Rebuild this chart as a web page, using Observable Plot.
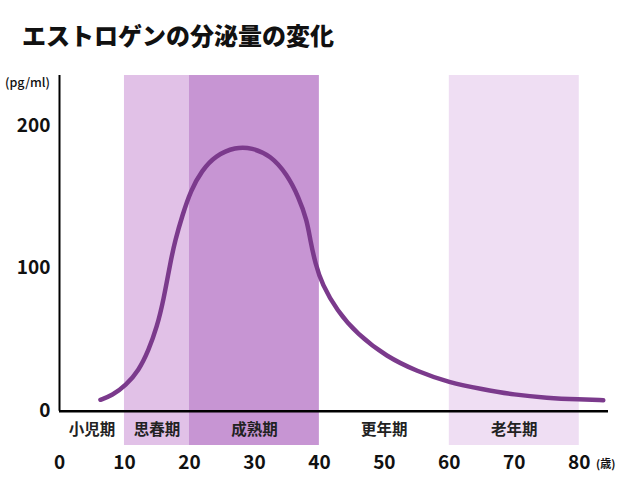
<!DOCTYPE html>
<html>
<head>
<meta charset="utf-8">
<script src="https://cdn.jsdelivr.net/npm/d3@7"></script>
<script src="https://cdn.jsdelivr.net/npm/@observablehq/plot@0.6"></script>
<style>
  html, body { margin: 0; padding: 0; background: #fff; }
  #wrap { position: relative; width: 640px; height: 500px; font-family: "Noto Sans CJK JP", sans-serif; }
  #title { position: absolute; left: 22px; top: 20px; font-size: 24px; font-weight: 900; line-height: 30px; color: #111; white-space: nowrap; }
  #unitY { position: absolute; left: 5px; top: 74px; font-size: 12.5px; font-weight: 500; line-height: 16px; color: #111; }
  #unitX { position: absolute; left: 596px; top: 455px; font-size: 11px; font-weight: 700; line-height: 16px; color: #111; }
  #chart { position: absolute; left: 0; top: 0; }
</style>
</head>
<body>
<div id="wrap">
  <div id="chart"></div>
  <div id="title">エストロゲンの分泌量の変化</div>
  <div id="unitY">(pg/ml)</div>
  <div id="unitX">(歳)</div>
</div>
<script>
// Life stages
const stageNames = ["小児期", "思春期", "成熟期", "更年期", "老年期"];
const stageStart = [0, 10, 20, 40, 60];
const stageEnd   = [10, 20, 40, 60, 80];

// Estrogen curve (age, pg/ml)
const ages = [6.3, 8.1, 10.2, 12.2, 13.7, 15, 16, 17.1, 17.8, 18.9, 20.2, 21.9, 24, 27.1, 29.6, 32.5, 35, 36.8, 38.1, 38.6, 39.4, 40.4, 42.7, 45.8, 50.4, 55, 60, 65, 70, 75, 80, 83.7];
const estrogen = [8, 11, 18, 28.5, 42.5, 59, 77.5, 105, 119.5, 137, 154.5, 168.5, 179, 185, 184.5, 179, 166, 150, 133.5, 119.5, 103, 89, 70.5, 54, 38, 28, 20, 15.5, 11.5, 9.3, 8.2, 7.7];

// Tick labels
const xTicks = [0, 10, 20, 30, 40, 50, 60, 70, 80];
const yTicks = [0, 100, 200];

const stageColor = {"小児期": "none", "思春期": "#e1c1e7", "成熟期": "#c795d3", "更年期": "none", "老年期": "#efdef3"};

const stages = stageNames.map((name, i) => ({name, start: stageStart[i], end: stageEnd[i], mid: (stageStart[i] + stageEnd[i]) / 2}));
const curve = ages.map((a, i) => ({age: a, value: estrogen[i]}));

const xMax = 84.5, yTop = 235, yBottom = -24, labelY = -13;

const chart = Plot.plot({
  width: 640,
  height: 500,
  marginLeft: 59,
  marginRight: 32,
  marginTop: 75,
  marginBottom: 55,
  style: {fontFamily: "'Noto Sans CJK JP', sans-serif", color: "#111", background: "transparent"},
  x: {domain: [0, xMax]},
  y: {domain: [yBottom, yTop]},
  marks: [
    Plot.rect(stages, {x1: "start", x2: "end", y1: yBottom, y2: yTop, fill: d => stageColor[d.name]}),
    Plot.line(curve, {x: "age", y: "value", curve: "basis", stroke: "#7b3a8c", strokeWidth: 4.5, strokeLinecap: "round", strokeLinejoin: "round"}),
    Plot.ruleY([0], {x1: 0, x2: xMax, stroke: "#000", strokeWidth: 2.5}),
    Plot.ruleX([0], {y1: 0, y2: yTop, stroke: "#000", strokeWidth: 2}),
    Plot.text(stages, {x: "mid", y: labelY, text: "name", fontSize: 15.5, fontWeight: "bold", fill: "#222"}),
    Plot.axisY(yTicks, {tickSize: 0, tickPadding: 9, fontSize: 19, fontWeight: "bold", label: null, fill: "#111"}),
    Plot.axisX(xTicks, {tickSize: 0, tickPadding: 10, fontSize: 19, fontWeight: "bold", label: null, fill: "#111"})
  ]
});
document.getElementById("chart").appendChild(chart);
</script>
</body>
</html>
